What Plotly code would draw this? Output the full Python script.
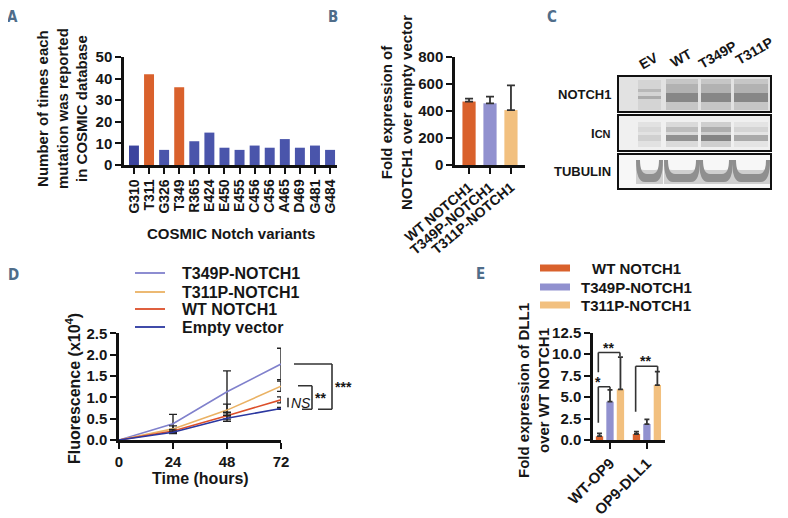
import plotly.graph_objects as go

# The page body adds an 8px margin, so the figure is 780x510 and drawn at (8, 8).
OFF = 8
W, H = 788 - OFF, 518 - OFF
def fx(px): return (px - OFF) / W
def fy(py): return 1 - (py - OFF) / H

# ---------------- data ----------------
# Panel A
a_variants = ["G310", "T311", "G326", "T349", "R365", "E424", "E450", "E455",
              "C456", "C456", "A465", "D469", "G481", "G484"]
a_counts = [9, 42, 7, 36, 11, 15, 8, 7, 9, 8, 12, 8, 9, 7]
a_highlight = [False, True, False, True, False, False, False, False,
               False, False, False, False, False, False]

# Panel B
b_constructs = ["WT NOTCH1", "T349P-NOTCH1", "T311P-NOTCH1"]
b_values = [470, 457, 407]
b_errors = [22, 50, 183]

# Panel C (western blot lanes)
c_lanes = ["EV", "WT", "T349P", "T311P"]
c_rows = ["NOTCH1", "I<span style='font-size:11px'>CN</span>", "TUBULIN"]

# Panel D
d_hours = [0, 24, 48, 72]
d_series = ["T349P-NOTCH1", "T311P-NOTCH1", "WT NOTCH1", "Empty vector"]
d_t349p = [0, 0.38, 1.13, 1.78]
d_t349p_err = [0, 0.22, 0.49, 0.37]
d_t311p = [0, 0.26, 0.70, 1.26]
d_t311p_err = [0, 0.07, 0.14, 0.12]
d_wt = [0, 0.21, 0.57, 0.94]
d_wt_err = [0, 0.04, 0.08, 0.07]
d_ev = [0, 0.18, 0.51, 0.74]
d_ev_err = [0, 0.03, 0.07, 0.02]

# Panel E
e_groups = ["WT-OP9", "OP9-DLL1"]
e_series = ["WT NOTCH1", "T349P-NOTCH1", "T311P-NOTCH1"]
e_wt = [0.45, 0.70]
e_wt_err = [0.33, 0.27]
e_t349p = [4.47, 1.86]
e_t349p_err = [1.36, 0.54]
e_t311p = [5.90, 6.40]
e_t311p_err = [3.75, 1.56]

# ---------------- styles ----------------
ORANGE = "#d9612c"
BLUE = "#4a55ab"
BLUE_DARK = "#3c449e"
LAV = "#9191cf"
PEACH = "#f2c07f"
D_COLORS = ["#8081cc", "#eab264", "#dc4f2a", "#2b37a0"]
TXT = "#161616"
FONT = "Liberation Sans"
LETFONT = "DejaVu Sans Condensed, Liberation Sans Narrow, Liberation Sans"
tickfont = dict(family=FONT, size=15, color=TXT, weight="bold")
small_tick = dict(family=FONT, size=14, color=TXT, weight="bold")
errc = "#333333"

fig = go.Figure()

# Panel A bars
a_colors = [ORANGE if h else BLUE for h in a_highlight]
a_colors[0] = BLUE_DARK
fig.add_trace(go.Bar(x=list(range(len(a_variants))), y=a_counts, marker_color=a_colors,
                     marker_line_width=0, width=0.66, name="COSMIC count",
                     xaxis="x", yaxis="y"))

# Panel B bars
fig.add_trace(go.Bar(x=list(range(len(b_constructs))), y=b_values,
                     marker_color=[ORANGE, LAV, PEACH], marker_line_width=0, width=0.63,
                     error_y=dict(type="data", array=b_errors, arrayminus=[0, 0, 0],
                                  symmetric=False, color=errc, thickness=1.8, width=4),
                     name="Fold expression", xaxis="x2", yaxis="y2"))

# Panel D lines
d_vals = [d_t349p, d_t311p, d_wt, d_ev]
d_errs = [d_t349p_err, d_t311p_err, d_wt_err, d_ev_err]
for name, vals, errs, col in zip(d_series, d_vals, d_errs, D_COLORS):
    fig.add_trace(go.Scatter(x=d_hours, y=vals, mode="lines", name=name,
                             line=dict(color=col, width=1.6),
                             error_y=dict(type="data", array=errs, color="#222",
                                          thickness=1.4, width=4),
                             xaxis="x3", yaxis="y3"))

# Panel E bars
e_vals = [e_wt, e_t349p, e_t311p]
e_errs = [e_wt_err, e_t349p_err, e_t311p_err]
e_cols = [ORANGE, LAV, PEACH]
for name, vals, errs, col in zip(e_series, e_vals, e_errs, e_cols):
    fig.add_trace(go.Bar(x=[0, 1], y=vals, name=name, marker_color=col,
                         marker_line_width=0,
                         error_y=dict(type="data", array=errs, arrayminus=[0, 0],
                                      symmetric=False, color=errc, thickness=1.8, width=2.5),
                         xaxis="x4", yaxis="y4"))

axis_common = dict(showline=True, linecolor="#111", linewidth=2.5, ticks="outside",
                   ticklen=6, tickwidth=2, tickcolor="#111", showgrid=False,
                   zeroline=False, tickfont=tickfont, fixedrange=True, automargin=False)

fig.update_layout(
    width=W, height=H, autosize=False, showlegend=False,
    margin=dict(l=0, r=0, t=0, b=0),
    paper_bgcolor="white", plot_bgcolor="rgba(0,0,0,0)",
    barmode="group", bargap=0.15, bargroupgap=0.3,
    xaxis=dict(domain=[fx(124), fx(337)], range=[-0.66, 13.46], anchor="y",
               tickvals=list(range(len(a_variants))), ticktext=a_variants,
               tickangle=-90, **{**axis_common, "tickfont": small_tick}),
    yaxis=dict(domain=[fy(165), fy(57)], range=[0, 50], dtick=10, anchor="x", **axis_common),
    xaxis2=dict(domain=[fx(455), fx(525)], range=[-0.67, 2.67], anchor="y2",
                tickvals=[0, 1, 2], ticktext=b_constructs, tickangle=-40,
                **{**axis_common, "tickfont": small_tick}),
    yaxis2=dict(domain=[fy(165), fy(57)], range=[0, 800], dtick=200, anchor="x2", **axis_common),
    xaxis3=dict(domain=[fx(119), fx(281)], range=[0, 72], tickvals=d_hours, anchor="y3",
                **axis_common),
    yaxis3=dict(domain=[fy(440), fy(333.3)], range=[0, 2.5], dtick=0.5, tickformat=".1f",
                anchor="x3", **axis_common),
    xaxis4=dict(domain=[fx(593), fx(665)], range=[-0.46, 1.49], anchor="y4",
                tickvals=[0, 1], ticktext=e_groups, tickangle=-45, **axis_common),
    yaxis4=dict(domain=[fy(440), fy(332.7)], range=[0, 12.5], dtick=2.5, tickformat=".1f",
                anchor="x4", **axis_common),
)

ann = []
def txt(x, y, s, size=15, angle=0, xanchor="center", yanchor="middle", color=TXT,
        family=FONT, weight="bold", style="normal", xref="paper", yref="paper"):
    ann.append(dict(x=x, y=y, xref=xref, yref=yref, text=s, showarrow=False,
                    textangle=angle, xanchor=xanchor, yanchor=yanchor,
                    font=dict(family=family, size=size, color=color, weight=weight, style=style)))

shapes = []
LN = dict(color="#333", width=1.6)
def seg(x0, y0, x1, y1, xref="paper", yref="paper", line=LN):
    shapes.append(dict(type="line", x0=x0, y0=y0, x1=x1, y1=y1, xref=xref, yref=yref, line=line))
def rect(x0, y0, x1, y1, fill, line=None):
    shapes.append(dict(type="rect", xref="paper", yref="paper", x0=fx(x0), x1=fx(x1),
                       y0=fy(y1), y1=fy(y0), fillcolor=fill,
                       line=line if line else dict(width=0), layer="above"))
def path(pts_cmds, fill):
    # pts_cmds: list of (cmd, [(px,py),...])
    s = ""
    for cmd, pts in pts_cmds:
        s += cmd + " " + " ".join(f"{fx(a):.5f},{fy(b):.5f}" for a, b in pts) + " "
    s += "Z"
    shapes.append(dict(type="path", xref="paper", yref="paper", path=s, fillcolor=fill,
                       line=dict(width=0), layer="above"))

# Panel letters
for L, (px, py) in {"A": (12, 17), "B": (333, 17), "C": (552, 17), "D": (13, 275), "E": (481, 274)}.items():
    txt(fx(px), fy(py), L, size=15, family=LETFONT, color="#4f6d8a")

# Axis titles
txt(fx(62), fy(109), "Number of times each<br>mutation was reported<br>in COSMIC database", angle=-90)
txt(fx(231), fy(233), "COSMIC Notch variants")
txt(fx(397), fy(113), "Fold expression of<br>NOTCH1 over empty vector", angle=-90)
txt(fx(73), fy(389), "Fluorescence (x10<sup>4</sup>)", size=16, angle=-90)
txt(fx(200), fy(478), "Time (hours)", size=16)
txt(fx(533), fy(391), "Fold expression of DLL1<br>over WT NOTCH1", angle=-90)

# Legend D (line samples + labels)
for name, col, py in zip(d_series, D_COLORS, [273, 292, 309, 327]):
    seg(fx(135), fy(py), fx(165), fy(py), line=dict(color=col, width=1.8))
    txt(fx(180), fy(py), name, size=16, xanchor="left")
# Legend E (swatches + labels)
for name, col, py in zip(e_series, e_cols, [268, 287, 305]):
    rect(540, py - 3.5, 570, py + 3.5, col)
    txt(fx(636), fy(py), name, size=15)

# Panel C labels
for lab, (px, py) in zip(c_lanes, [(648, 61), (681, 58), (717, 55), (754, 51)]):
    txt(fx(px), fy(py), lab, size=14, angle=-30)
for lab, py in zip(c_rows, [94, 133, 172]):
    txt(fx(613), fy(py), lab, size=13, xanchor="right")

# Significance marks D
txt(fx(343), 1.24, "***", size=14, yref="y3")
txt(fx(320), 0.98, "**", size=14, yref="y3")
txt(fx(301), 0.87, "NS", size=14, weight="normal", style="italic", yref="y3")
# Significance marks E
txt(-0.05, 10.75, "**", size=14, xref="x4", yref="y4")
txt(-0.33, 6.75, "*", size=14, xref="x4", yref="y4")
txt(0.95, 9.15, "**", size=14, xref="x4", yref="y4")

# D brackets (x paper, y data)
seg(fx(294), 1.78, fx(332), 1.78, yref="y3")
seg(fx(332), 1.78, fx(332), 0.72, yref="y3")
seg(fx(318), 0.72, fx(332), 0.72, yref="y3")
seg(fx(298), 1.27, fx(312), 1.27, yref="y3")
seg(fx(312), 1.27, fx(312), 0.72, yref="y3")
seg(fx(302), 0.72, fx(312), 0.72, yref="y3")
seg(fx(288), 0.99, fx(288), 0.77, yref="y3")

# E brackets (data coords)
seg(-0.316, 10.2, 0.27, 10.2, "x4", "y4")
seg(-0.316, 10.2, -0.316, 7.9, "x4", "y4")
seg(0.27, 10.2, 0.27, 9.75, "x4", "y4")
seg(-0.316, 6.2, 0.0, 6.2, "x4", "y4")
seg(-0.316, 6.2, -0.316, 2.0, "x4", "y4")
seg(0.0, 6.2, 0.0, 5.9, "x4", "y4")
seg(0.695, 8.6, 1.29, 8.6, "x4", "y4")
seg(0.695, 8.6, 0.695, 3.3, "x4", "y4")
seg(1.29, 8.6, 1.29, 8.0, "x4", "y4")

# Panel C blot drawing (decorative)
lanes_lr = [(638, 661), (666, 698), (701, 731), (734, 768)]
# NOTCH1
rect(618, 76, 771, 112, "#e2e2e2")
for i, (l, r) in enumerate(lanes_lr):
    if i == 0:
        rect(l, 80, r, 110, "#d4d4d4")
        rect(l, 89, r, 92, "#b8b8b8")
        rect(l, 96, r, 99, "#ababab")
    else:
        rect(l, 79, r, 110, "#c6c6c6")
        rect(l, 84, r, 93, "#b2b2b2")
        rect(l, 93, r, 102, "#878787")
rect(618, 76, 771, 112, "rgba(0,0,0,0)", dict(color="#111", width=2))
# ICN
rect(618, 115, 771, 151, "#f0f0f0")
icn = [("#e2e2e2", "#d8d8d8", "#d0d0d0"), ("#dadada", "#bdbdbd", "#919191"),
       ("#cfcfcf", "#adadad", "#848484"), ("#e4e4e4", "#d4d4d4", "#a9a9a9")]
for (l, r), (bg, b1, b2) in zip(lanes_lr, icn):
    rect(l, 122, r, 147, bg)
    rect(l, 127, r, 132, b1)
    rect(l, 135, r, 141, b2)
rect(618, 115, 771, 151, "rgba(0,0,0,0)", dict(color="#111", width=2))
# TUBULIN (U-shaped bands)
rect(618, 154, 771, 189, "#f7f7f7")
for (l, r) in lanes_lr:
    l -= 2; r += 2
    path([("M", [(l, 160)]), ("Q", [(l, 170), (l + 8, 170)]), ("L", [(r - 8, 170)]),
          ("Q", [(r, 170), (r, 160)]), ("L", [(r, 184)]), ("L", [(l, 184)])], "#cfcfcf")
    path([("M", [(l, 160)]), ("Q", [(l, 182), (l + 9, 182)]), ("L", [(r - 9, 182)]),
          ("Q", [(r, 182), (r, 160)]), ("L", [(r - 4, 160)]), ("Q", [(r - 4, 174), (r - 11, 174)]),
          ("L", [(l + 11, 174)]), ("Q", [(l + 4, 174), (l + 4, 160)])], "#8f8f8f")
rect(618, 154, 771, 189, "rgba(0,0,0,0)", dict(color="#111", width=2))

fig.update_layout(annotations=ann, shapes=shapes)
fig.write_html("out.html")
